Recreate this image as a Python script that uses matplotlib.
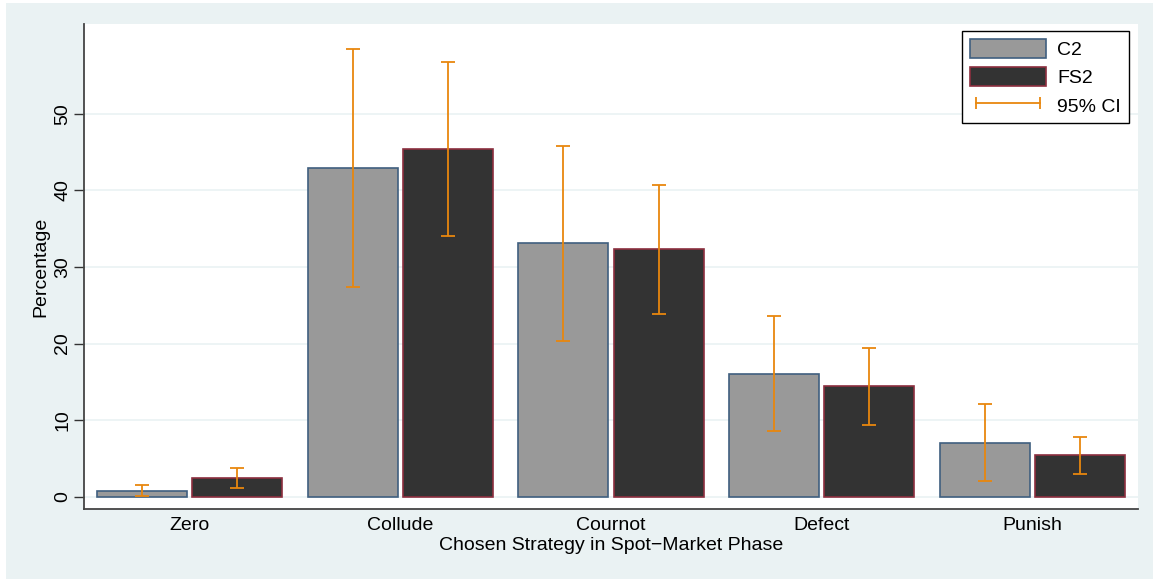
import matplotlib.pyplot as plt
from matplotlib.patches import Rectangle, Patch
from matplotlib.lines import Line2D
import numpy as np

plt.rcParams['font.family'] = ['Liberation Sans', 'DejaVu Sans']

# Data
strategies = ["Zero", "Collude", "Cournot", "Defect", "Punish"]
c2 = [0.8, 42.9, 33.1, 16.0, 7.0]
c2_lo = [0.1, 27.4, 20.3, 8.6, 2.0]
c2_hi = [1.5, 58.4, 45.8, 23.6, 12.1]
fs2 = [2.5, 45.4, 32.3, 14.4, 5.4]
fs2_lo = [1.2, 34.0, 23.8, 9.4, 3.0]
fs2_hi = [3.7, 56.7, 40.7, 19.4, 7.8]

bg = '#eaf2f3'
orange = '#e8870e'

fig = plt.figure(figsize=(11.53, 5.79), dpi=100)
fig.patch.set_facecolor('white')
# outer graph region (leaves a thin white strip on top and left)
fig.add_artist(Rectangle((6 / 1153, 0), 1 - 6 / 1153, 1 - 3 / 579,
                         transform=fig.transFigure, facecolor=bg,
                         edgecolor='none', zorder=-5))

ax = fig.add_axes([84 / 1153, 70 / 579, 1054 / 1153, 485 / 579])
ax.set_zorder(1)
ax.set_facecolor('white')

x = np.arange(len(strategies))
w = 0.427
off = 0.2255
ax.bar(x - off, c2, width=w, color='#999999', edgecolor='#3f5f7f', linewidth=1.2, zorder=2)
ax.bar(x + off, fs2, width=w, color='#333333', edgecolor='#8c2f3f', linewidth=1.2, zorder=2)

for xs, lo, hi in [(x - off, c2_lo, c2_hi), (x + off, fs2_lo, fs2_hi)]:
    mid = (np.array(lo) + np.array(hi)) / 2
    err = (np.array(hi) - np.array(lo)) / 2
    ax.errorbar(xs, mid, yerr=err, fmt='none', ecolor=orange, elinewidth=1.3,
                capsize=5, capthick=1.3, zorder=3)

ax.set_xlim(-0.5, 4.5)
ax.set_ylim(-1.6, 61.7)
ax.set_yticks([0, 10, 20, 30, 40, 50])
ax.set_xticks(x)
ax.set_xticklabels(strategies, fontsize=14)
ax.tick_params(axis='x', length=0, pad=6)
ax.tick_params(axis='y', length=7, width=1, color='#333333', labelsize=14, pad=2)
for lab in ax.get_yticklabels():
    lab.set_rotation(90)
    lab.set_va('center')
ax.yaxis.grid(True, color=bg, linewidth=1.2, zorder=1)
ax.set_axisbelow(True)

for s in ['top', 'right']:
    ax.spines[s].set_visible(False)
for s in ['left', 'bottom']:
    ax.spines[s].set_color('#444444')
    ax.spines[s].set_linewidth(1.3)

ax.set_xlabel("Chosen Strategy in Spot\u2212Market Phase", fontsize=14, labelpad=2)
ax.set_ylabel("Percentage", fontsize=14, labelpad=4)

handles = [
    Patch(facecolor='#999999', edgecolor='#3f5f7f', linewidth=1.2, label='C2'),
    Patch(facecolor='#333333', edgecolor='#8c2f3f', linewidth=1.2, label='FS2'),
    Line2D([0], [0], color=orange, linewidth=1.3, marker='|', markersize=8,
           markeredgewidth=1.3, label='95% CI'),
]
leg = ax.legend(handles=handles, loc='upper left', bbox_to_anchor=(0.833, 0.986),
                fontsize=14, frameon=True, fancybox=False, framealpha=1,
                edgecolor='black', handlelength=3.9, handleheight=1.15,
                handletextpad=0.6, labelspacing=0.42, borderpad=0.4,
                numpoints=2, borderaxespad=0)
leg.get_frame().set_linewidth(1.0)
leg.get_frame().set_facecolor('white')

fig.savefig('out.png', dpi=100, facecolor=fig.get_facecolor())
